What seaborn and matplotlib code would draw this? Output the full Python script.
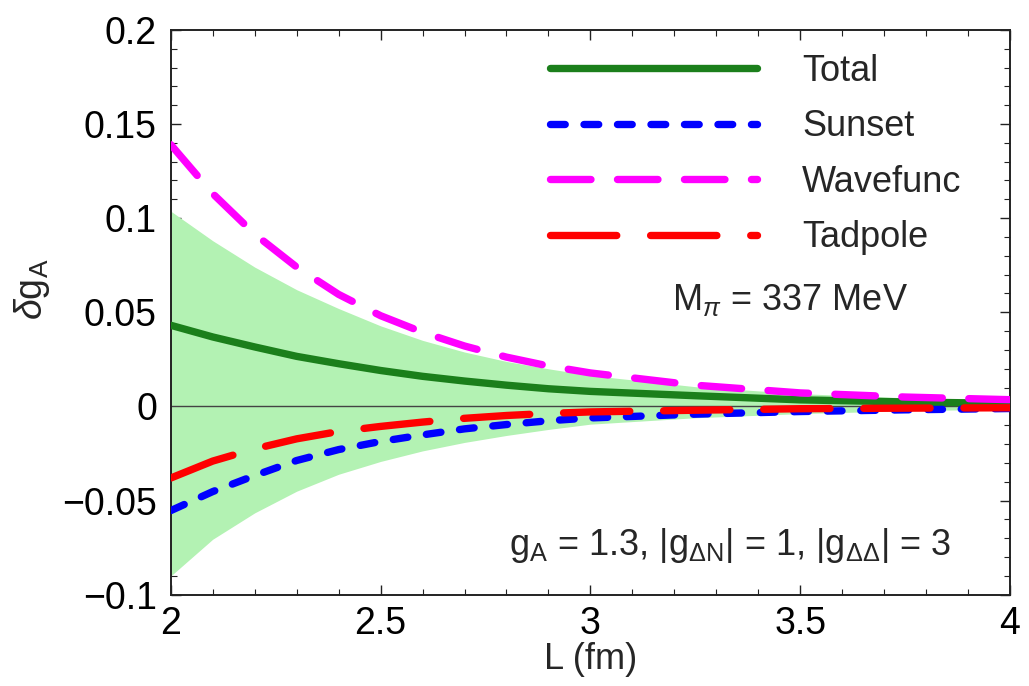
import numpy as np
import pandas as pd
import seaborn as sns
import matplotlib
matplotlib.use('Agg')
import matplotlib.pyplot as plt
from matplotlib.ticker import MultipleLocator, FuncFormatter

# values
L = [2.0, 2.1, 2.2, 2.3, 2.4, 2.5, 2.6, 2.7, 2.8, 2.9, 3.0, 3.25, 3.5, 3.75, 4.0]
total = [0.0431, 0.0369, 0.0316, 0.0266, 0.0227, 0.0191, 0.0160, 0.0135,
         0.0113, 0.0094, 0.0080, 0.0057, 0.0035, 0.0024, 0.0016]
sunset = [-0.0553, -0.0452, -0.0367, -0.0287, -0.0229, -0.0186, -0.0151,
          -0.0119, -0.0096, -0.0076, -0.0061, -0.0041, -0.0027, -0.0018,
          -0.0011]
wavefunc = [0.1390, 0.1130, 0.0915, 0.0740, 0.0595, 0.0482, 0.0394, 0.0321,
            0.0262, 0.0215, 0.0178, 0.0113, 0.0072, 0.0050, 0.0036]
tadpole = [-0.0380, -0.0290, -0.0225, -0.0172, -0.0133, -0.0106, -0.0083,
           -0.0063, -0.0048, -0.0037, -0.0029, -0.0020, -0.0012, -0.0009,
           -0.0007]
band_hi = [0.1037, 0.0880, 0.0740, 0.0620, 0.0520, 0.0428, 0.0351, 0.0289,
           0.0239, 0.0200, 0.0165, 0.0105, 0.0068, 0.0046, 0.0034]
band_lo = [-0.0900, -0.0705, -0.0565, -0.0450, -0.0360, -0.0292, -0.0236,
           -0.0191, -0.0154, -0.0122, -0.0094, -0.0060, -0.0038, -0.0023,
           -0.0014]

series = {'Total': total, 'Sunset': sunset, 'Wavefunc': wavefunc,
          'Tadpole': tadpole}
colors = {'Total': '#1b7f1b', 'Sunset': '#0000ff', 'Wavefunc': '#ff00ff',
          'Tadpole': '#ff0000'}
styles = {'Total': '-', 'Sunset': (0, (2.0, 2.55)),
          'Wavefunc': (0, (5.5, 3.6)), 'Tadpole': (0, (9.0, 4.6))}

df = pd.DataFrame({'L': L, **series})
long_df = df.melt(id_vars='L', var_name='term', value_name='dg')

sns.set_style('ticks')
plt.rcParams['font.family'] = ['Liberation Sans', 'DejaVu Sans']
plt.rcParams['mathtext.fontset'] = 'custom'
plt.rcParams['mathtext.rm'] = 'Liberation Sans'
plt.rcParams['mathtext.it'] = 'Liberation Sans:italic'

fig = plt.figure(figsize=(10.29, 6.86), dpi=100)
ax = fig.add_axes([0.166, 0.133, 0.8155, 0.8235])

ax.fill_between(L, band_lo, band_hi, color='#b3f2b3', lw=0, zorder=1)
ax.axhline(0, color='#444444', lw=1.0, zorder=2)

for name in ['Total', 'Sunset', 'Wavefunc', 'Tadpole']:
    sns.lineplot(data=long_df[long_df['term'] == name], x='L', y='dg',
                 color=colors[name], linestyle=styles[name], lw=5.3,
                 dash_capstyle='round', solid_capstyle='round',
                 label=name, ax=ax, zorder=3)

ax.set_xlim(2, 4)
ax.set_ylim(-0.1, 0.2)
ax.xaxis.set_major_locator(MultipleLocator(0.5))
ax.xaxis.set_minor_locator(MultipleLocator(0.1))
ax.yaxis.set_major_locator(MultipleLocator(0.05))
ax.yaxis.set_minor_locator(MultipleLocator(0.01))
fmt = FuncFormatter(lambda v, p: ('%g' % round(v, 3)).replace('-', '\u2212'))
ax.xaxis.set_major_formatter(fmt)
ax.yaxis.set_major_formatter(fmt)
ax.tick_params(which='both', direction='in', top=True, right=True,
               labelsize=27, colors='#222222', labelcolor='black')
ax.tick_params(which='major', length=7, width=1.0)
ax.tick_params(which='minor', length=4, width=0.8)
ax.tick_params(axis='y', pad=10)
ax.tick_params(axis='x', pad=8)
for s in ax.spines.values():
    s.set_linewidth(1.4)
    s.set_color('#222222')

ax.set_xlabel('L (fm)', fontsize=26, labelpad=0)
ax.set_ylabel(r'$\delta\mathrm{g}_\mathrm{A}$', fontsize=27)
ax.yaxis.set_label_coords(-0.142, 0.54)

ax.text(3.475, 0.0565, r'$\mathrm{M}_{\pi}$ = 337 MeV', fontsize=26,
        ha='center', va='center')
ax.text(3.333, -0.074,
        r'$\mathrm{g}_\mathrm{A}$ = 1.3, |$\mathrm{g}_{\Delta\mathrm{N}}$| = 1,'
        r' |$\mathrm{g}_{\Delta\Delta}$| = 3',
        fontsize=26, ha='center', va='center')

ax.legend(loc='upper left', bbox_to_anchor=(0.452, 0.958), frameon=False,
          fontsize=26, handlelength=5.73, handletextpad=1.25,
          labelspacing=0.57, borderpad=0, borderaxespad=0)

fig.savefig('out.png', dpi=100)
